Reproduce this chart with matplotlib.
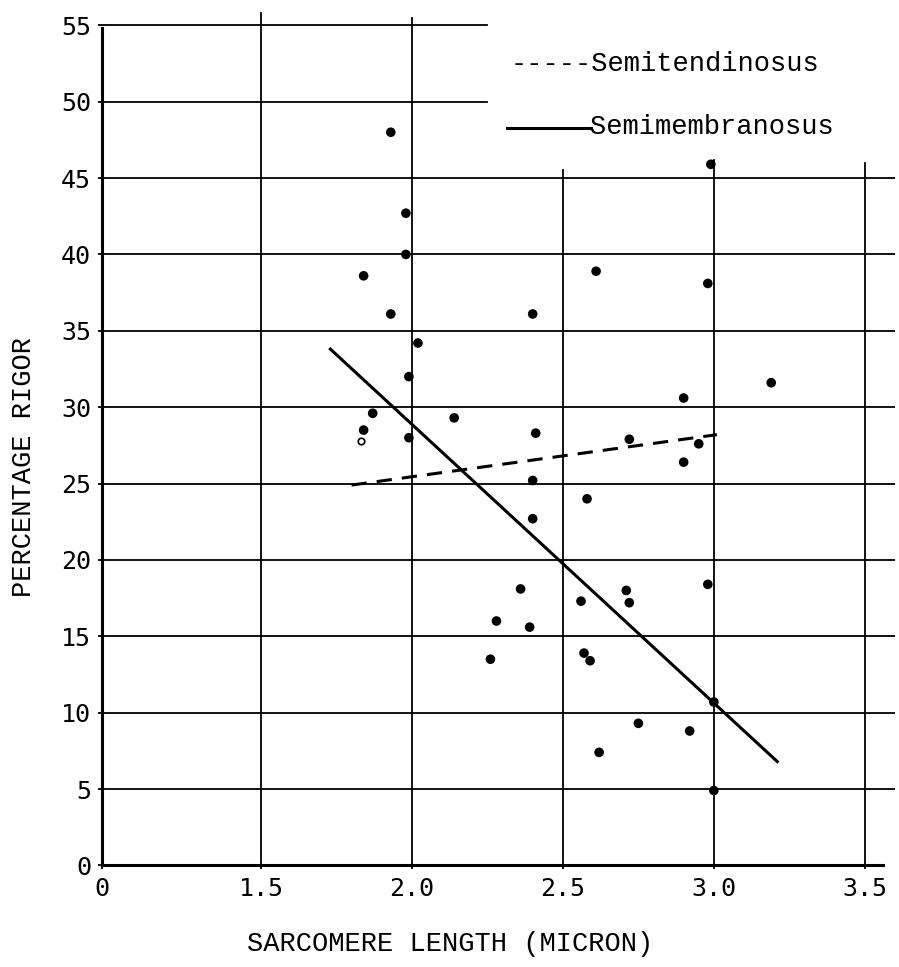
import numpy as np
import matplotlib
matplotlib.use("Agg")
import matplotlib.pyplot as plt
from matplotlib.lines import Line2D

# sarcomere length (micron) vs percentage rigor
sl_x = [1.93, 1.98, 1.98, 1.84, 1.93, 2.40, 2.02, 1.99, 2.99, 2.61,
        2.98, 3.19, 2.90, 1.87, 1.84, 1.99, 2.14, 2.41, 2.40, 2.40,
        2.36, 2.28, 2.39, 2.26, 2.72, 2.95, 2.90, 2.58, 2.98, 2.71,
        2.72, 2.56, 2.57, 2.59, 3.00, 2.75, 2.92, 2.62, 3.00]
rigor_y = [48.0, 42.7, 40.0, 38.6, 36.1, 36.1, 34.2, 32.0, 45.9, 38.9,
           38.1, 31.6, 30.6, 29.6, 28.5, 28.0, 29.3, 28.3, 25.2, 22.7,
           18.1, 16.0, 15.6, 13.5, 27.9, 27.6, 26.4, 24.0, 18.4, 18.0,
           17.2, 17.3, 13.9, 13.4, 10.7, 9.3, 8.8, 7.4, 4.9]
# one faint (hollow) point
open_x = [1.83]
open_y = [27.8]

# fitted lines
semiten_x = [1.80, 3.01]
semiten_y = [24.9, 28.2]
semimem_x = [1.73, 3.21]
semimem_y = [33.8, 6.8]

x_ticks = [0, 1.5, 2.0, 2.5, 3.0, 3.5]
x_ticklabels = ["0", "1.5", "2.0", "2.5", "3.0", "3.5"]
y_ticks = list(range(0, 60, 5))

# broken x axis: 0..1.5 squeezed into a single interval
BREAK_U = 0.5265


def fwd(x):
    x = np.asarray(x, dtype=float)
    return np.where(x <= 1.5, x * (BREAK_U / 1.5), BREAK_U + (x - 1.5))


def inv(u):
    u = np.asarray(u, dtype=float)
    return np.where(u <= BREAK_U, u * 1.5 / BREAK_U, u - BREAK_U + 1.5)


W, H = 899, 967
fig = plt.figure(figsize=(W / 100, H / 100), dpi=100)
ax = fig.add_axes([102 / W, 1 - 865.4 / H, (895 - 102) / W, (865.4 - 2.4) / H])
ax.set_xscale("function", functions=(fwd, inv))
ax.set_xlim(0, 3.6)
ax.set_ylim(0, 56.5)

# grid, drawn by hand because the lines stop at different heights
for yv in y_ticks[1:]:
    xend = 2.25 if yv >= 50 else 3.6
    ax.plot([0, xend], [yv, yv], color="black", lw=1.3, zorder=1)
vtops = {1.5: 55.8, 2.0: 55.5, 2.5: 45.5, 3.0: 46.2, 3.5: 46.0}
for xv, top in vtops.items():
    ax.plot([xv, xv], [0, top], color="black", lw=1.3, zorder=1)

ax.scatter(sl_x, rigor_y, s=48, color="black", edgecolors="none", zorder=3)
ax.scatter(open_x, open_y, s=22, facecolors="white", edgecolors="black",
           linewidths=1.2, zorder=3)

ax.plot(semiten_x, semiten_y, color="black", lw=2.2, dashes=(5, 3.3), zorder=2)
ax.plot(semimem_x, semimem_y, color="black", lw=2.2, zorder=2)

for side in ["top", "right"]:
    ax.spines[side].set_visible(False)
ax.spines["left"].set_linewidth(2.2)
ax.spines["bottom"].set_linewidth(2.2)
ax.spines["left"].set_bounds(0, 54.8)
ax.spines["bottom"].set_bounds(0, 3.56)

ax.set_xticks(x_ticks)
ax.set_xticklabels(x_ticklabels)
ax.set_yticks(y_ticks)
ax.set_yticklabels([str(v) for v in y_ticks])
ax.tick_params(axis="both", direction="out", length=3, width=1.3, pad=5,
               labelsize=18)
for lab in ax.get_xticklabels() + ax.get_yticklabels():
    lab.set_family("DejaVu Sans Mono")

# legend, typed onto the plot
fig.text(511 / W, 1 - 64 / H, "-----Semitendinosus", family="Liberation Mono",
         fontsize=19.5, ha="left", va="center")
fig.add_artist(Line2D([507 / W, 591 / W], [1 - 128 / H, 1 - 128 / H],
                      color="black", lw=2.2))
fig.text(590 / W, 1 - 127 / H, "Semimembranosus", family="Liberation Mono",
         fontsize=19.5, ha="left", va="center")

fig.text(450 / W, 1 - 944 / H, "SARCOMERE LENGTH (MICRON)",
         family="Liberation Mono", fontsize=19.5, ha="center", va="center")
fig.text(24 / W, 1 - 467 / H, "PERCENTAGE RIGOR", family="Liberation Mono",
         fontsize=19.5, ha="center", va="center", rotation=90)

fig.savefig("out.png", dpi=100)
